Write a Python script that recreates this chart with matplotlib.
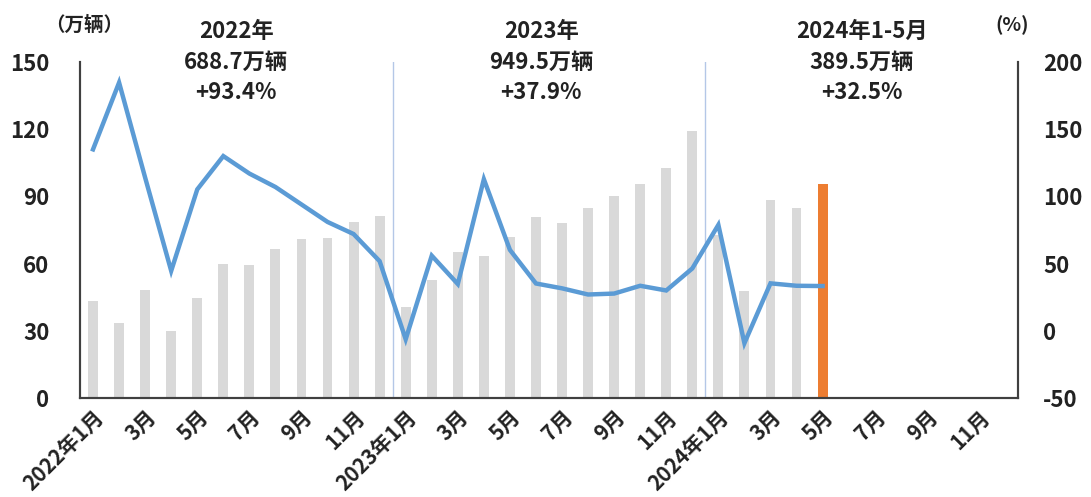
import matplotlib
matplotlib.use("Agg")
import matplotlib.pyplot as plt

plt.rcParams['font.family'] = ['Noto Sans CJK SC', 'DejaVu Sans']
plt.rcParams['axes.unicode_minus'] = False

months = [f"{y}-{m:02d}" for y in (2022, 2023, 2024) for m in range(1, 13)]
tick_labels = ["2022年1月", "3月", "5月", "7月", "9月", "11月",
               "2023年1月", "3月", "5月", "7月", "9月", "11月",
               "2024年1月", "3月", "5月", "7月", "9月", "11月"]
sales = [43.1, 33.4, 48.4, 29.9, 44.7, 59.6, 59.3, 66.6, 70.8, 71.4, 78.6, 81.4,
         40.8, 52.5, 65.3, 63.6, 71.7, 80.6, 78.0, 84.6, 90.4, 95.6, 102.6, 119.1,
         72.9, 47.7, 88.3, 85.0, 95.5]
growth = [135.0, 184.7, 114.0, 44.6, 105.2, 130.0, 117.0, 107.0, 94.0, 81.0, 72.0, 51.8,
          -6.3, 55.9, 34.8, 112.8, 60.2, 35.2, 31.6, 27.0, 27.7, 33.5, 30.0, 46.4,
          78.8, -9.2, 35.3, 33.5, 33.3]
annotations = ["2022年\n688.7万辆\n+93.4%", "2023年\n949.5万辆\n+37.9%", "2024年1-5月\n389.5万辆\n+32.5%"]
annot_x = [5.5, 17.2, 29.5]

fig = plt.figure(figsize=(10.91, 4.97), dpi=100)
ax = fig.add_axes([80/1091, 1-398/497, 938/1091, 336/497])
ax2 = ax.twinx()

n = len(sales)
colors = ["#D9D9D9"] * (n - 1) + ["#ED7D31"]
ax.bar(range(n), sales, width=0.38, color=colors, zorder=2)
ax.set_xlim(-0.5, len(months) - 0.5)
ax.set_ylim(0, 150)
ax.set_yticks([0, 30, 60, 90, 120, 150])
ax2.set_ylim(-50, 200)
ax2.set_yticks([-50, 0, 50, 100, 150, 200])

ax2.plot(range(n), growth, color="#5B9BD5", lw=3.2, solid_joinstyle='miter', zorder=3)

for xv in (11.5, 23.5):
    ax.axvline(xv, color="#B4C7E7", lw=1.0, zorder=1)

ax.set_xticks(range(0, len(months), 2))
ax.set_xticklabels(tick_labels, rotation=45, ha='right', rotation_mode='anchor',
                   fontsize=15, fontweight='bold', color='#222222')
for a in (ax, ax2):
    a.tick_params(length=0)
    a.spines['top'].set_visible(False)
    for s in ('left', 'right', 'bottom'):
        a.spines[s].set_color('#404040')
        a.spines[s].set_linewidth(1.5)
ax.tick_params(axis='x', pad=6)
ax.tick_params(axis='y', pad=22)
ax2.tick_params(axis='y', pad=18)
for lbl in ax.get_yticklabels() + ax2.get_yticklabels():
    lbl.set_fontsize(16)
    lbl.set_fontweight('bold')
    lbl.set_color('#222222')

for xv, txt in zip(annot_x, annotations):
    ax.text(xv, 1.125, txt, transform=ax.get_xaxis_transform(), ha='center', va='top',
            fontsize=16, fontweight='bold', color='#222222', linespacing=1.42)

fig.text(45/1091, 1-25/497, "（万辆）", ha='left', va='center', fontsize=14,
         fontweight='bold', color='#222222')
fig.text(995/1091, 1-25/497, "(%)", ha='left', va='center', fontsize=14,
         fontweight='bold', color='#222222')

fig.savefig("out.png", dpi=100)
